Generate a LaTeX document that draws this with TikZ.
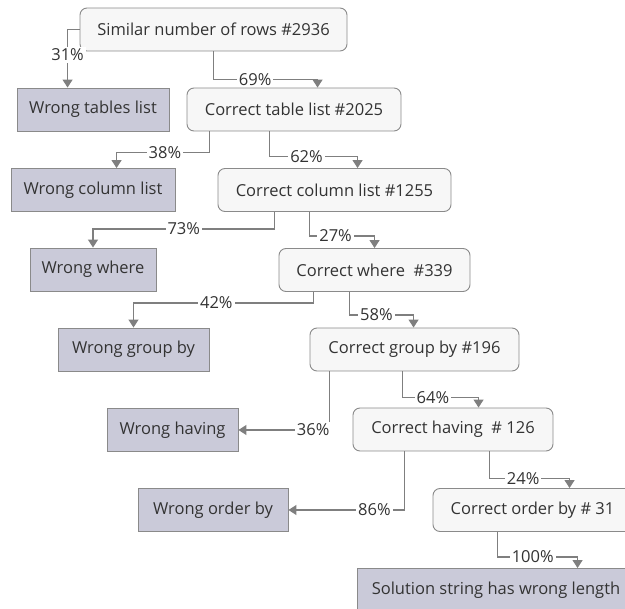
\documentclass[tikz,border=0pt]{standalone}
\usepackage{fontspec}
\setsansfont{Open Sans}
\usetikzlibrary{arrows.meta}

\definecolor{boxFill}{HTML}{F7F7F7}
\definecolor{boxLine}{HTML}{8A8A8A}
\definecolor{errFill}{HTML}{CACAD9}
\definecolor{arrowGray}{HTML}{7F7F7F}
\definecolor{textGray}{HTML}{333333}

\begin{document}
\begin{tikzpicture}[x=1pt,y=-1pt,font=\sffamily\fontsize{16.5}{19}\selectfont,
  ok/.style={draw=boxLine,fill=boxFill,rounded corners=7pt,minimum height=43pt,text=textGray,line width=0.9pt},
  fail/.style={draw=boxLine,fill=errFill,minimum height=43pt,text=textGray,line width=0.9pt},
  conn/.style={draw=arrowGray,line width=1.2pt,-{Triangle[length=8pt,width=10pt]}},
  pct/.style={fill=white,text=textGray,inner sep=2pt}]
  \clip (0,0) rectangle (625,609);

  % boxes, top to bottom
  \node[ok,minimum width=267pt] (sim) at (213.5,29.5) {Similar number of rows \#2936};
  \node[fail,minimum width=152pt] (wtab) at (93,109.5) {Wrong tables list};
  \node[ok,minimum width=214pt] (ctab) at (294,109.5) {Correct table list \#2025};
  \node[fail,minimum width=164pt] (wcol) at (93,190) {Wrong column list};
  \node[ok,minimum width=233pt] (ccol) at (334.5,190) {Correct column list \#1255};
  \node[fail,minimum width=126pt] (wwhere) at (93,269.5) {Wrong where};
  \node[ok,minimum width=191pt] (cwhere) at (374.5,270) {Correct where\ \ \#339};
  \node[fail,minimum width=151pt] (wgroup) at (133.5,349.5) {Wrong group by};
  \node[ok,minimum width=209pt] (cgroup) at (414.5,349.5) {Correct group by \#196};
  \node[fail,minimum width=131pt] (whaving) at (172.5,430) {Wrong having};
  \node[ok,minimum width=200pt] (chaving) at (453,429.5) {Correct having\ \ \# 126};
  \node[fail,minimum width=150pt] (worder) at (213,510) {Wrong order by};
  \node[ok,minimum width=199pt] (corder) at (532.5,510) {Correct order by \# 31};
  \node[fail,minimum width=278pt] (sol) at (496,590) {Solution string has wrong length};

  % connectors
  \draw[conn] (sim.west) -| node[pct,pos=0.72] {31\%} ([xshift=51pt]wtab.north west);
  \draw[conn] (sim.south) -- ++(0,28) -| node[pct,pos=0.2] {69\%} ([xshift=131pt]ctab.north west);
  \draw[conn] ([xshift=23pt]ctab.south west) -- ++(0,21) -| node[pct,pos=0.24] {38\%} ([xshift=106pt]wcol.north west);
  \draw[conn] ([xshift=83pt]ctab.south west) -- ++(0,25) -| node[pct,pos=0.21] {62\%} ([xshift=140pt]ccol.north west);
  \draw[conn] ([xshift=57pt]ccol.south west) -- ++(0,17) -| node[pct,pos=0.25] {73\%} (wwhere.north);
  \draw[conn] ([xshift=92pt]ccol.south west) -- ++(0,24) -| node[pct,pos=0.2] {27\%} ([xshift=96pt]cwhere.north west);
  \draw[conn] ([xshift=35pt]cwhere.south west) -- ++(0,11) -| node[pct,pos=0.27] {42\%} (wgroup.north);
  \draw[conn] ([xshift=71pt]cwhere.south west) -- ++(0,23) -| node[pct,pos=0.21] {58\%} ([xshift=104pt]cgroup.north west);
  \draw[conn] ([xshift=20pt]cgroup.south west) |- node[pct,pos=0.59] {36\%} (whaving.east);
  \draw[conn] ([xshift=93pt]cgroup.south west) -- ++(0,26) -| node[pct,pos=0.2] {64\%} ([xshift=126pt]chaving.north west);
  \draw[conn] ([xshift=52pt]chaving.south west) |- node[pct,pos=0.63] {86\%} (worder.east);
  \draw[conn] ([xshift=137pt]chaving.south west) -- ++(0,27) -| node[pct,pos=0.21] {24\%} ([xshift=137pt]corder.north west);
  \draw[conn] ([xshift=65pt]corder.south west) -- ++(0,25) -| node[pct,pos=0.22] {100\%} ([xshift=221pt]sol.north west);
\end{tikzpicture}
\end{document}
